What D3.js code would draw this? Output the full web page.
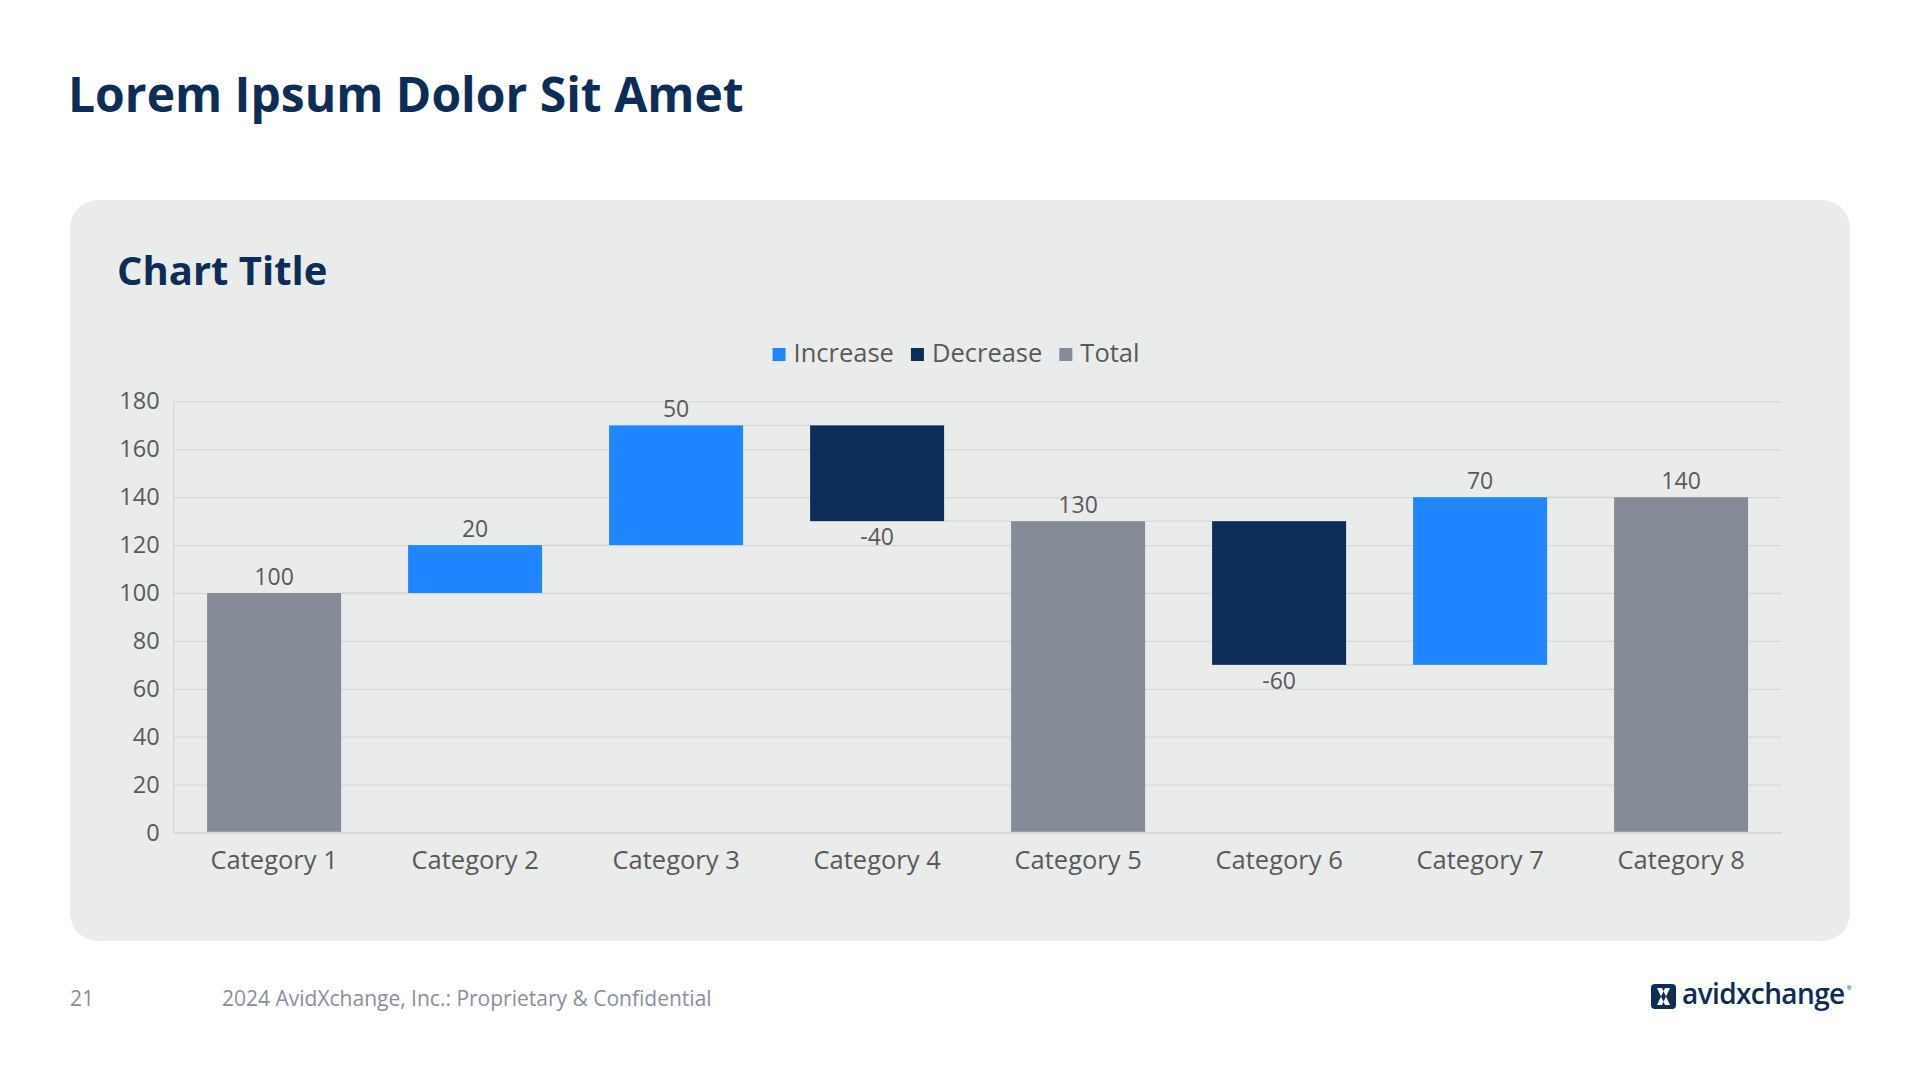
<!DOCTYPE html>
<html lang="en">
<head>
    <meta charset="UTF-8">
    <title>Lorem Ipsum Dolor Sit Amet</title>
    <script src="https://d3js.org/d3.v7.min.js"></script>
    <style>
        body { margin: 0; background: #fff; }
        svg { display: block; font-family: "Open Sans", sans-serif; }
    </style>
</head>
<body>
    <svg width="1920" height="1080"></svg>

    <script>
        // podaci
        const categories = ["Category 1", "Category 2", "Category 3", "Category 4",
                            "Category 5", "Category 6", "Category 7", "Category 8"];
        const values = [100, 20, 50, -40, 130, -60, 70, 140];
        const kinds = ["Total", "Increase", "Increase", "Decrease", "Total", "Decrease", "Increase", "Total"];
        const yTicks = [0, 20, 40, 60, 80, 100, 120, 140, 160, 180];
        const legendItems = ["Increase", "Decrease", "Total"];

        const colors = { Increase: "#1f86ff", Decrease: "#0c2d57", Total: "#868b98" };
        const navy = "#0d2d56";
        const labelColor = "#595959";
        const gridColor = "#d6d8d8";

        const svg = d3.select("svg");

        // bijela pozadina + naslov
        svg.append("rect").attr("width", 1920).attr("height", 1080).attr("fill", "#fff");

        svg.append("text")
            .attr("x", 68)
            .attr("y", 112)
            .attr("fill", navy)
            .style("font-size", "48px")
            .style("font-weight", 700)
            .text("Lorem Ipsum Dolor Sit Amet");

        // siva ploča
        svg.append("rect")
            .attr("x", 70)
            .attr("y", 200)
            .attr("width", 1780)
            .attr("height", 741)
            .attr("rx", 28)
            .attr("fill", "#eaeceb");

        svg.append("text")
            .attr("x", 117)
            .attr("y", 285)
            .attr("fill", navy)
            .style("font-size", "40px")
            .style("font-weight", 700)
            .text("Chart Title");

        // skale
        const plot = { left: 173.6, right: 1781.6, top: 401.4, bottom: 832.5 };

        const x = d3.scaleBand()
            .domain(categories)
            .range([plot.left, plot.right])
            .paddingInner(1 / 3)
            .paddingOuter(1 / 6);

        const y = d3.scaleLinear()
            .domain([0, 180])
            .range([plot.bottom, plot.top]);

        // waterfall: početak i kraj svakog stupca
        let running = 0;
        const bars = categories.map((c, i) => {
            let from, to;
            if (kinds[i] === "Total") {
                from = 0; to = values[i]; running = values[i];
            } else {
                from = running; to = running + values[i]; running = to;
            }
            return { cat: c, kind: kinds[i], value: values[i], from: from, to: to, level: running };
        });

        // mreža
        const yAxis = svg.append("g")
            .attr("transform", `translate(${plot.left},0)`)
            .call(d3.axisLeft(y).tickValues(yTicks).tickSize(-(plot.right - plot.left)).tickPadding(14));
        yAxis.select(".domain").remove();
        yAxis.selectAll(".tick line").attr("stroke", gridColor).attr("stroke-width", 1.3);
        yAxis.selectAll(".tick text")
            .attr("fill", labelColor)
            .style("font-size", "23.5px")
            .style("font-family", "'Open Sans', sans-serif");

        svg.append("line")
            .attr("x1", plot.left).attr("x2", plot.left)
            .attr("y1", plot.top).attr("y2", plot.bottom)
            .attr("stroke", gridColor)
            .attr("stroke-width", 1.3);

        // spojnice između stupaca
        svg.append("g")
            .selectAll("line")
            .data(bars.slice(0, -1))
            .join("line")
            .attr("x1", d => x(d.cat) + x.bandwidth())
            .attr("x2", (d, i) => x(categories[i + 1]))
            .attr("y1", d => y(d.level))
            .attr("y2", d => y(d.level))
            .attr("stroke", gridColor)
            .attr("stroke-width", 1.3);

        // stupci
        svg.append("g")
            .selectAll("rect")
            .data(bars)
            .join("rect")
            .attr("x", d => x(d.cat))
            .attr("width", x.bandwidth())
            .attr("y", d => y(Math.max(d.from, d.to)))
            .attr("height", d => Math.abs(y(d.from) - y(d.to)))
            .attr("fill", d => colors[d.kind]);

        // oznake vrijednosti
        svg.append("g")
            .selectAll("text")
            .data(bars)
            .join("text")
            .attr("x", d => x(d.cat) + x.bandwidth() / 2)
            .attr("y", d => d.kind === "Decrease" ? y(Math.min(d.from, d.to)) + 24 : y(Math.max(d.from, d.to)) - 8)
            .attr("text-anchor", "middle")
            .attr("fill", labelColor)
            .style("font-size", "23px")
            .text(d => d.value);

        // X os
        const xAxis = svg.append("g")
            .attr("transform", `translate(0,${plot.bottom})`)
            .call(d3.axisBottom(x).tickSize(0).tickPadding(18));
        xAxis.select(".domain").attr("stroke", gridColor).attr("stroke-width", 1.3)
            .attr("d", `M${plot.left},0H${plot.right}`);
        xAxis.selectAll(".tick text")
            .attr("fill", labelColor)
            .style("font-size", "25.5px")
            .style("font-family", "'Open Sans', sans-serif");

        // legenda
        const legend = svg.append("g");
        let lx = 0;
        legendItems.forEach(name => {
            const item = legend.append("g").attr("transform", `translate(${lx},0)`);
            item.append("rect")
                .attr("x", 0).attr("y", -14)
                .attr("width", 13).attr("height", 13)
                .attr("fill", colors[name]);
            const t = item.append("text")
                .attr("x", 21).attr("y", 0)
                .attr("fill", labelColor)
                .style("font-size", "25.5px")
                .text(name);
            lx += 21 + t.node().getComputedTextLength() + 17;
        });
        legend.attr("transform", `translate(${956 - (lx - 17) / 2},362)`);

        // podnožje
        svg.append("text")
            .attr("x", 70).attr("y", 1006)
            .attr("fill", "#8a8f9c")
            .style("font-size", "21px")
            .text("21");

        svg.append("text")
            .attr("x", 222).attr("y", 1006)
            .attr("fill", "#8a8f9c")
            .style("font-size", "21px")
            .text("2024 AvidXchange, Inc.: Proprietary & Confidential");

        // logo
        const logo = svg.append("g").attr("transform", "translate(1651,984)");
        logo.append("rect")
            .attr("width", 25).attr("height", 25)
            .attr("rx", 4)
            .attr("fill", navy);
        logo.append("path")
            .attr("d", "M6,4 L11,4 L19,21 L14,21 Z M19,4 L14,4 L6,21 L11,21 Z")
            .attr("fill", "#fff");
        const logoText = logo.append("text")
            .attr("x", 31).attr("y", 20)
            .attr("fill", navy)
            .style("font-size", "28px")
            .style("font-weight", 600)
            .style("letter-spacing", "-0.6px")
            .text("avidxchange");
        logo.append("text")
            .attr("x", 31 + logoText.node().getComputedTextLength() + 2).attr("y", 6)
            .attr("fill", navy)
            .style("font-size", "6px")
            .text("®");
    </script>
</body>
</html>
